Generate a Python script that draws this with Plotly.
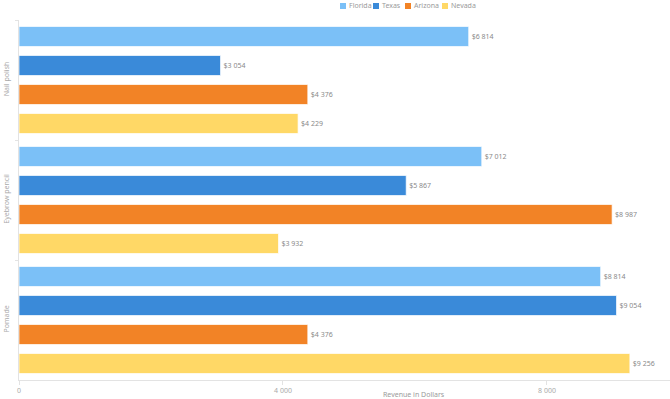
import plotly.graph_objects as go

products = ["Nail polish", "Eyebrow pencil", "Pomade"]
states = ["Florida", "Texas", "Arizona", "Nevada"]
florida = [6814, 7012, 8814]
texas = [3054, 5867, 9054]
arizona = [4376, 8987, 4376]
nevada = [4229, 3932, 9256]
colors = ["#7BC0F7", "#3A8AD9", "#F28326", "#FFD866"]
x_ticks = [0, 4000, 8000]
x_tick_labels = ["0", "4 000", "8 000"]
x_title = "Revenue in Dollars"

W, H = 670, 399
ML, MR, MT, MB = 19, 0, 20, 19
PW, PH = W - ML - MR, H - MT - MB


def px_x(p):
    return (p - ML) / PW


def px_y(p):
    return (H - MB - p) / PH


fig = go.Figure()
for name, vals, col in zip(states, [florida, texas, arizona, nevada], colors):
    fig.add_trace(go.Bar(
        y=products, x=vals, name=name, orientation="h", showlegend=False,
        marker=dict(color=col, line=dict(color="rgba(255,255,255,0.7)", width=1)),
        texttemplate="$%{x:,.0f}", textposition="outside",
        textfont=dict(size=7, color="#8a8a8a", family="Noto Sans"),
        cliponaxis=False,
    ))

# custom legend (small squares + labels) centred above the chart
legend_left = [340, 373, 405, 442]
shapes = []
annotations = []
for name, col, lx in zip(states, colors, legend_left):
    shapes.append(dict(type="rect", xref="paper", yref="paper",
                       x0=px_x(lx), x1=px_x(lx + 6), y0=px_y(9), y1=px_y(3),
                       fillcolor=col, line=dict(width=0)))
    annotations.append(dict(text=name, xref="paper", yref="paper",
                            x=px_x(lx + 7), y=px_y(6), xanchor="left", yanchor="middle",
                            showarrow=False, font=dict(size=7, color="#9a9a9a")))
annotations.append(dict(text=x_title, xref="paper", yref="paper",
                        x=px_x(414), y=px_y(394), xanchor="center", yanchor="middle",
                        showarrow=False, font=dict(size=7, color="#9a9a9a")))

fig.update_layout(
    width=W, height=H,
    margin=dict(l=ML, r=MR, t=MT, b=MB, autoexpand=False),
    paper_bgcolor="white", plot_bgcolor="white",
    barmode="group", bargap=0.033, bargroupgap=0.31,
    separators=". ",
    font=dict(family="Noto Sans", size=7, color="#999999"),
    showlegend=False,
    shapes=shapes, annotations=annotations,
    xaxis=dict(range=[0, 9864], tickvals=x_ticks, ticktext=x_tick_labels,
               automargin=False,
               showgrid=False, zeroline=False, showline=True, linecolor="#e3e3e3",
               ticks="outside", ticklen=4, tickcolor="#e3e3e3",
               tickfont=dict(size=7, color="#aaaaaa")),
    yaxis=dict(autorange="reversed", automargin=False, showgrid=False,
               showline=True, linecolor="#e3e3e3",
               ticks="outside", ticklen=3, tickcolor="#e3e3e3", tickson="boundaries",
               ticklabelstandoff=6,
               tickangle=-90, tickfont=dict(size=7, color="#aaaaaa")),
)

fig.write_html(
    "out.html",
    config={"displayModeBar": False},
    post_script="document.body.style.margin='0';document.body.style.overflow='hidden';",
)
